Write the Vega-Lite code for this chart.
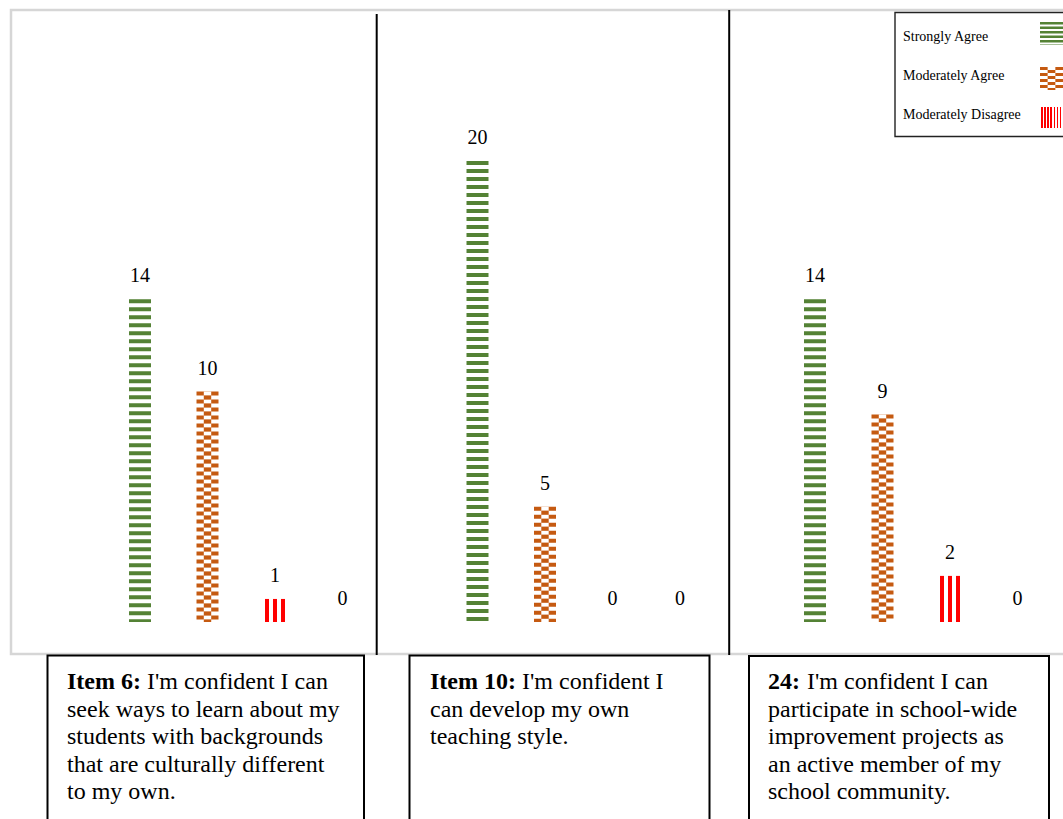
{
  "$schema": "https://vega.github.io/schema/vega-lite/v6.json",
  "width": 1063,
  "height": 819,
  "autosize": {"type": "none"},
  "padding": 0,
  "background": "white",
  "config": {"view": {"stroke": null}, "font": "Liberation Serif"},
  "datasets": {
    "survey": [
      {"item": "Item 6", "response": "Strongly Agree", "count": 14},
      {"item": "Item 6", "response": "Moderately Agree", "count": 10},
      {"item": "Item 6", "response": "Moderately Disagree", "count": 1},
      {"item": "Item 6", "response": "Strongly Disagree", "count": 0},
      {"item": "Item 10", "response": "Strongly Agree", "count": 20},
      {"item": "Item 10", "response": "Moderately Agree", "count": 5},
      {"item": "Item 10", "response": "Moderately Disagree", "count": 0},
      {"item": "Item 10", "response": "Strongly Disagree", "count": 0},
      {"item": "Item 24", "response": "Strongly Agree", "count": 14},
      {"item": "Item 24", "response": "Moderately Agree", "count": 9},
      {"item": "Item 24", "response": "Moderately Disagree", "count": 2},
      {"item": "Item 24", "response": "Strongly Disagree", "count": 0}
    ],
    "one": [{}]
  },
  "layer": [
    {
      "data": {"name": "one"},
      "mark": {"type": "rect", "fill": null, "stroke": "#d6d6d6", "strokeWidth": 2.5},
      "encoding": {"x": {"value": 11}, "x2": {"value": 1090}, "y": {"value": 10}, "y2": {"value": 654}}
    },
    {
      "data": {"name": "one"},
      "mark": {"type": "rule", "stroke": "black", "strokeWidth": 2},
      "encoding": {"x": {"value": 376.7}, "y": {"value": 14}, "y2": {"value": 655}}
    },
    {
      "data": {"name": "one"},
      "mark": {"type": "rule", "stroke": "black", "strokeWidth": 2},
      "encoding": {"x": {"value": 729.2}, "y": {"value": 10}, "y2": {"value": 655}}
    },
    {
      "data": {"name": "survey"},
      "transform": [{"filter": "datum.response === 'Strongly Agree'"}],
      "mark": {"type": "rule", "stroke": "#548235", "strokeWidth": 22, "strokeDash": [4, 4]},
      "encoding": {
        "x": {"field": "item", "type": "nominal", "sort": ["Item 6", "Item 10", "Item 24"], "scale": {"type": "band", "range": [106.25, 1051.25], "paddingInner": 0.2, "paddingOuter": 0}, "axis": null},
        "xOffset": {"field": "response", "type": "nominal", "sort": ["Strongly Agree", "Moderately Agree", "Moderately Disagree", "Strongly Disagree"], "scale": {"paddingInner": 0, "paddingOuter": 0}},
        "y": {"field": "count", "type": "quantitative", "scale": {"domain": [0, 20], "range": [622, 161], "nice": false}, "axis": null},
        "y2": {"datum": 0}
      }
    },
    {
      "data": {"name": "survey"},
      "transform": [{"filter": "datum.response === 'Moderately Agree'"}],
      "layer": [
        {"mark": {"type": "rule", "stroke": "#c55a11", "strokeWidth": 22, "strokeDash": [4, 4]}},
        {"mark": {"type": "rule", "stroke": "white", "strokeWidth": 7.4, "strokeDash": [4, 4]}},
        {"mark": {"type": "rule", "stroke": "#c55a11", "strokeWidth": 7.4, "strokeDash": [4, 4], "strokeDashOffset": 4}}
      ],
      "encoding": {
        "x": {"field": "item", "type": "nominal", "sort": ["Item 6", "Item 10", "Item 24"], "axis": null},
        "xOffset": {"field": "response", "type": "nominal", "sort": ["Strongly Agree", "Moderately Agree", "Moderately Disagree", "Strongly Disagree"]},
        "y": {"field": "count", "type": "quantitative", "axis": null},
        "y2": {"datum": 0}
      }
    },
    {
      "data": {"name": "survey"},
      "transform": [{"filter": "datum.response === 'Moderately Disagree'"}],
      "mark": {
        "type": "bar",
        "width": 20,
        "fill": {
          "gradient": "linear", "x1": 0, "y1": 0, "x2": 1, "y2": 0,
          "stops": [
            {"offset": 0, "color": "#ff0000"}, {"offset": 0.18, "color": "#ff0000"},
            {"offset": 0.18, "color": "#ffffff"}, {"offset": 0.41, "color": "#ffffff"},
            {"offset": 0.41, "color": "#ff0000"}, {"offset": 0.59, "color": "#ff0000"},
            {"offset": 0.59, "color": "#ffffff"}, {"offset": 0.82, "color": "#ffffff"},
            {"offset": 0.82, "color": "#ff0000"}, {"offset": 1, "color": "#ff0000"}
          ]
        }
      },
      "encoding": {
        "x": {"field": "item", "type": "nominal", "sort": ["Item 6", "Item 10", "Item 24"], "axis": null},
        "xOffset": {"field": "response", "type": "nominal", "sort": ["Strongly Agree", "Moderately Agree", "Moderately Disagree", "Strongly Disagree"]},
        "y": {"field": "count", "type": "quantitative", "axis": null},
        "y2": {"datum": 0}
      }
    },
    {
      "data": {"name": "survey"},
      "mark": {"type": "text", "fontSize": 20, "baseline": "alphabetic", "align": "center", "dy": -17, "color": "black"},
      "encoding": {
        "x": {"field": "item", "type": "nominal", "sort": ["Item 6", "Item 10", "Item 24"], "axis": null},
        "xOffset": {"field": "response", "type": "nominal", "sort": ["Strongly Agree", "Moderately Agree", "Moderately Disagree", "Strongly Disagree"]},
        "y": {"field": "count", "type": "quantitative", "axis": null},
        "text": {"field": "count", "type": "quantitative"}
      }
    },
    {
      "data": {"name": "one"},
      "mark": {"type": "rect", "fill": "white", "stroke": "#222222", "strokeWidth": 1.4},
      "encoding": {"x": {"value": 895}, "x2": {"value": 1090}, "y": {"value": 12.5}, "y2": {"value": 136.5}}
    },
    {
      "data": {"name": "one"},
      "mark": {"type": "text", "fontSize": 14, "baseline": "alphabetic", "align": "left", "lineHeight": 39, "color": "black",
        "text": ["Strongly Agree", "Moderately Agree", "Moderately Disagree"]},
      "encoding": {"x": {"value": 903}, "y": {"value": 41}}
    },
    {
      "data": {"name": "one"},
      "mark": {"type": "rule", "stroke": "#548235", "strokeWidth": 23, "strokeDash": [2.5, 2]},
      "encoding": {"x": {"value": 1051.5}, "y": {"value": 22}, "y2": {"value": 45}}
    },
    {
      "data": {"name": "one"},
      "layer": [
        {"mark": {"type": "rule", "stroke": "#c55a11", "strokeWidth": 23, "strokeDash": [3, 3]}},
        {"mark": {"type": "rule", "stroke": "white", "strokeWidth": 7.7, "strokeDash": [3, 3]}},
        {"mark": {"type": "rule", "stroke": "#c55a11", "strokeWidth": 7.7, "strokeDash": [3, 3], "strokeDashOffset": 3}}
      ],
      "encoding": {"x": {"value": 1051.5}, "y": {"value": 67}, "y2": {"value": 90}}
    },
    {
      "data": {"name": "one"},
      "mark": {
        "type": "rect",
        "fill": {
          "gradient": "linear", "x1": 0, "y1": 0, "x2": 1, "y2": 0,
          "stops": [
            {"offset": 0, "color": "#ff0000"}, {"offset": 0.07, "color": "#ff0000"},
            {"offset": 0.07, "color": "#ffffff"}, {"offset": 0.143, "color": "#ffffff"},
            {"offset": 0.143, "color": "#ff0000"}, {"offset": 0.214, "color": "#ff0000"},
            {"offset": 0.214, "color": "#ffffff"}, {"offset": 0.286, "color": "#ffffff"},
            {"offset": 0.286, "color": "#ff0000"}, {"offset": 0.357, "color": "#ff0000"},
            {"offset": 0.357, "color": "#ffffff"}, {"offset": 0.429, "color": "#ffffff"},
            {"offset": 0.429, "color": "#ff0000"}, {"offset": 0.5, "color": "#ff0000"},
            {"offset": 0.5, "color": "#ffffff"}, {"offset": 0.571, "color": "#ffffff"},
            {"offset": 0.571, "color": "#ff0000"}, {"offset": 0.643, "color": "#ff0000"},
            {"offset": 0.643, "color": "#ffffff"}, {"offset": 0.714, "color": "#ffffff"},
            {"offset": 0.714, "color": "#ff0000"}, {"offset": 0.786, "color": "#ff0000"},
            {"offset": 0.786, "color": "#ffffff"}, {"offset": 0.857, "color": "#ffffff"},
            {"offset": 0.857, "color": "#ff0000"}, {"offset": 0.929, "color": "#ff0000"},
            {"offset": 0.929, "color": "#ffffff"}, {"offset": 1, "color": "#ffffff"}
          ]
        }
      },
      "encoding": {"x": {"value": 1041}, "x2": {"value": 1063}, "y": {"value": 107}, "y2": {"value": 128}}
    },
    {
      "data": {"name": "one"},
      "mark": {"type": "rect", "fill": "white", "stroke": "black", "strokeWidth": 2},
      "encoding": {"x": {"value": 47.5}, "x2": {"value": 364}, "y": {"value": 655.5}, "y2": {"value": 840}}
    },
    {
      "data": {"name": "one"},
      "mark": {"type": "rect", "fill": "white", "stroke": "black", "strokeWidth": 2},
      "encoding": {"x": {"value": 409.5}, "x2": {"value": 709.5}, "y": {"value": 655.5}, "y2": {"value": 840}}
    },
    {
      "data": {"name": "one"},
      "mark": {"type": "rect", "fill": "white", "stroke": "black", "strokeWidth": 2},
      "encoding": {"x": {"value": 749}, "x2": {"value": 1049}, "y": {"value": 656}, "y2": {"value": 840}}
    },
    {
      "data": {"name": "one"},
      "mark": {"type": "text", "fontSize": 24, "fontWeight": "bold", "baseline": "alphabetic", "align": "left", "color": "black", "text": "Item 6:"},
      "encoding": {"x": {"value": 67}, "y": {"value": 689}}
    },
    {
      "data": {"name": "one"},
      "mark": {"type": "text", "fontSize": 24, "baseline": "alphabetic", "align": "left", "color": "black", "text": "I'm confident I can"},
      "encoding": {"x": {"value": 147}, "y": {"value": 689}}
    },
    {
      "data": {"name": "one"},
      "mark": {"type": "text", "fontSize": 24, "baseline": "alphabetic", "align": "left", "color": "black", "lineHeight": 27.5,
        "text": ["seek ways to learn about my", "students with backgrounds", "that are culturally different", "to my own."]},
      "encoding": {"x": {"value": 67}, "y": {"value": 716.5}}
    },
    {
      "data": {"name": "one"},
      "mark": {"type": "text", "fontSize": 24, "fontWeight": "bold", "baseline": "alphabetic", "align": "left", "color": "black", "text": "Item 10:"},
      "encoding": {"x": {"value": 430}, "y": {"value": 689}}
    },
    {
      "data": {"name": "one"},
      "mark": {"type": "text", "fontSize": 24, "baseline": "alphabetic", "align": "left", "color": "black", "text": "I'm confident I"},
      "encoding": {"x": {"value": 522}, "y": {"value": 689}}
    },
    {
      "data": {"name": "one"},
      "mark": {"type": "text", "fontSize": 24, "baseline": "alphabetic", "align": "left", "color": "black", "lineHeight": 27.5,
        "text": ["can develop my own", "teaching style."]},
      "encoding": {"x": {"value": 430}, "y": {"value": 716.5}}
    },
    {
      "data": {"name": "one"},
      "mark": {"type": "text", "fontSize": 24, "fontWeight": "bold", "baseline": "alphabetic", "align": "left", "color": "black", "text": "24:"},
      "encoding": {"x": {"value": 768}, "y": {"value": 689}}
    },
    {
      "data": {"name": "one"},
      "mark": {"type": "text", "fontSize": 24, "baseline": "alphabetic", "align": "left", "color": "black", "text": "I'm confident I can"},
      "encoding": {"x": {"value": 807}, "y": {"value": 689}}
    },
    {
      "data": {"name": "one"},
      "mark": {"type": "text", "fontSize": 24, "baseline": "alphabetic", "align": "left", "color": "black", "lineHeight": 27.5,
        "text": ["participate in school-wide", "improvement projects as", "an active member of my", "school community."]},
      "encoding": {"x": {"value": 768}, "y": {"value": 716.5}}
    }
  ]
}
